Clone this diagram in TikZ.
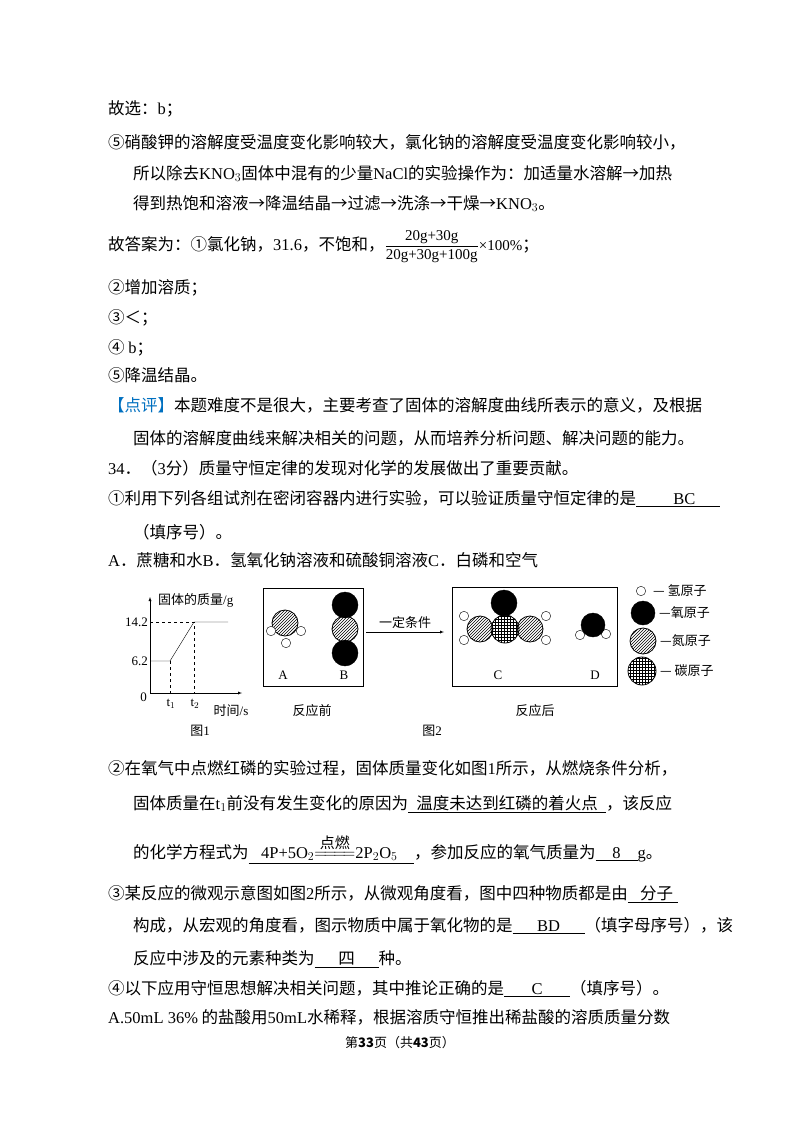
\documentclass[tikz,border=0pt]{standalone}
\usepackage{fontspec}
\usepackage{amsmath}
\setmainfont{Noto Sans CJK SC}
\newfontfamily\lat{Liberation Serif}
\newfontfamily\cjkfont{Noto Sans CJK SC}
\usetikzlibrary{patterns}
\newcommand{\fs}{\fontsize{16.5}{20}\selectfont}
\newcommand{\ul}[2]{\underline{\makebox[#1][c]{#2}}}
\definecolor{pyblue}{RGB}{0,112,192}
\tikzset{
  txt/.style={anchor=base west, inner sep=0pt, font=\fs},
  lbl/.style={inner sep=0pt, font=\fontsize{13}{15}\selectfont},
  hat/.style={draw, thick, pattern=north east lines},
  grd/.style={draw, thick, pattern=grid},
  oxy/.style={draw, fill=black},
  hyd/.style={draw, fill=white},
}
\begin{document}
\begin{tikzpicture}[x=1pt,y=-1pt]
  \useasboundingbox[fill=white] (0,0) rectangle (800,1132);
  % text above
  \node[txt] (l1) at (108,114) {故选：{\lat b}；};
  \node[txt] (l2) at (108,148) {⑤硝酸钾的溶解度受温度变化影响较大，氯化钠的溶解度受温度变化影响较小，};
  \node[txt] (l3) at (133,179) {所以除去{\lat KNO$_3$}固体中混有的少量{\lat NaCl}的实验操作为：加适量水溶解→加热};
  \node[txt] (l4) at (133,209) {得到热饱和溶液→降温结晶→过滤→洗涤→干燥→{\lat KNO$_3$}。};
  \node[txt] (l5) at (108,250) {故答案为：①氯化钠，{\lat 31.6}，不饱和，{\lat\fontsize{15}{16}\selectfont$\dfrac{\text{20g+30g}}{\text{20g+30g+100g}}$×100\%}；};
  \node[txt] (l6) at (108,293) {②增加溶质；};
  \node[txt] (l7) at (108,323) {③＜；};
  \node[txt] (l8) at (108,353) {④ {\lat b}；};
  \node[txt] (l9) at (108,381) {⑤降温结晶。};
  \node[txt] (l10) at (108,411) {\textcolor{pyblue}{【点评】}本题难度不是很大，主要考查了固体的溶解度曲线所表示的意义，及根据};
  \node[txt] (l11) at (133,444) {固体的溶解度曲线来解决相关的问题，从而培养分析问题、解决问题的能力。};
  \node[txt] (l12) at (108,474) {{\lat 34}．（{\lat 3}分）质量守恒定律的发现对化学的发展做出了重要贡献。};
  \node[txt] (l13) at (108,504) {①利用下列各组试剂在密闭容器内进行实验，可以验证质量守恒定律的是\ul{84pt}{\lat\ \ \ BC}};
  \node[txt] (l14) at (133,538) {（填序号）。};
  \node[txt] (l15) at (108,566) {{\lat A}．蔗糖和水{\lat B}．氢氧化钠溶液和硫酸铜溶液{\lat C}．白磷和空气};
  % figure 1
  \coordinate (o) at (150,693);
  \draw[-latex] (o) -- (150,597);
  \draw[-latex] (o) -- (242,693);
  \draw (150,661) -- (170,661) -- (194,622) -- (228,622);
  \draw[dashed] (150,622) -- (194,622) -- (194,693);
  \draw[dashed] (170,661) -- (170,693);
  \node[lbl, anchor=west] (ylab) at (158,600) {固体的质量{\lat /g}};
  \node[lbl, anchor=east] (v142) at (148,622) {\lat 14.2};
  \node[lbl, anchor=east] (v62) at (148,661) {\lat 6.2};
  \node[lbl, anchor=east] (v0) at (147,697) {\lat 0};
  \node[lbl] (t1) at (171,704) {\lat t$_1$};
  \node[lbl] (t2) at (195,704) {\lat t$_2$};
  \node[lbl] (xlab) at (231,711) {时间{\lat /s}};
  \node[lbl] (fig1) at (200,731) {图{\lat 1}};
  % figure 2, before
  \draw (263,588) rectangle (363,686);
  \node[hat, circle, minimum size=26pt] (an) at (285,623) {};
  \node[hyd, circle, minimum size=9pt] (ah1) at (271,631) {};
  \node[hyd, circle, minimum size=9pt] (ah2) at (301,631) {};
  \node[hyd, circle, minimum size=9pt] (ah3) at (286,643) {};
  \node[oxy, circle, minimum size=26pt] (bo1) at (345,605) {};
  \node[oxy, circle, minimum size=26pt] (bo2) at (345,653) {};
  \node[hat, circle, minimum size=26pt] (bn) at (345,629) {};
  \node[lbl] (la) at (283,675) {\lat A};
  \node[lbl] (lb) at (344,675) {\lat B};
  \node[lbl] (before) at (312,711) {反应前};
  \coordinate (arr1) at (366,632);
  \coordinate (arr2) at (444,632);
  \draw[-latex] (arr1) -- (arr2) node[midway, above, lbl, yshift=3pt] {一定条件};
  \node[lbl] (fig2) at (432,731) {图{\lat 2}};
  % figure 2, after
  \draw (452,587) rectangle (617,686);
  \node[hyd, circle, minimum size=9pt] (ch1) at (464,616) {};
  \node[hyd, circle, minimum size=9pt] (ch2) at (464,640) {};
  \node[hyd, circle, minimum size=9pt] (ch3) at (546,616) {};
  \node[hyd, circle, minimum size=9pt] (ch4) at (546,640) {};
  \node[hat, circle, minimum size=26pt] (cn1) at (480,629) {};
  \node[hat, circle, minimum size=26pt] (cn2) at (530,629) {};
  \node[oxy, circle, minimum size=26pt] (co) at (504,603) {};
  \node[grd, circle, minimum size=28pt] (cc) at (505,629) {};
  \node[hyd, circle, minimum size=9pt] (dh1) at (580,635) {};
  \node[hyd, circle, minimum size=9pt] (dh2) at (606,634) {};
  \node[oxy, circle, minimum size=24pt] (do) at (593,625) {};
  \node[lbl] (lc) at (498,675) {\lat C};
  \node[lbl] (ld) at (595,675) {\lat D};
  \node[lbl] (after) at (535,711) {反应后};
  % legend
  \node[hyd, circle, minimum size=9pt] (kh) at (641,591) {};
  \node[oxy, circle, minimum size=24pt] (ko) at (643,613) {};
  \node[hat, circle, minimum size=26pt] (kn) at (643,641) {};
  \node[grd, circle, minimum size=28pt] (kc) at (642,671) {};
  \node[lbl, anchor=west] (th) at (653,591) {— 氢原子};
  \node[lbl, anchor=west] (to) at (659,613) {—氧原子};
  \node[lbl, anchor=west] (tn) at (660,641) {—氮原子};
  \node[lbl, anchor=west] (tc) at (660,671) {— 碳原子};
  % text below
  \node[txt] (l16) at (108,774) {②在氧气中点燃红磷的实验过程，固体质量变化如图{\lat 1}所示，从燃烧条件分析，};
  \node[txt] (l17) at (133,809) {固体质量在{\lat t$_1$}前没有发生变化的原因为\ul{198pt}{温度未达到红磷的着火点}，该反应};
  \node[txt] (l18) at (133,858) {的化学方程式为\underline{\lat\ \ \ 4P+5O$_2$$\overset{\text{\cjkfont\fontsize{15}{16}\selectfont 点燃}}{=\joinrel=\joinrel=\joinrel=}$2P$_2$O$_5$\ \ \ \ }，参加反应的氧气质量为\ul{42pt}{\lat 8}{\lat g}。};
  \node[txt] (l19) at (108,899) {③某反应的微观示意图如图{\lat 2}所示，从微观角度看，图中四种物质都是由\ul{50pt}{\ \ 分子}};
  \node[txt] (l20) at (133,931) {构成，从宏观的角度看，图示物质中属于氧化物的是\ul{72pt}{\lat BD}（填字母序号），该};
  \node[txt] (l21) at (133,964) {反应中涉及的元素种类为\ul{64pt}{四}种。};
  \node[txt] (l22) at (108,994) {④以下应用守恒思想解决相关问题，其中推论正确的是\ul{66pt}{\lat C}（填序号）。};
  \node[txt] (l23) at (108,1023) {{\lat A.50mL 36\%} 的盐酸用{\lat 50mL}水稀释，根据溶质守恒推出稀盐酸的溶质质量分数};
  \node[lbl] (foot) at (400,1043) {第{\bfseries 33}页（共{\bfseries 43}页）};
\end{tikzpicture}
\end{document}
